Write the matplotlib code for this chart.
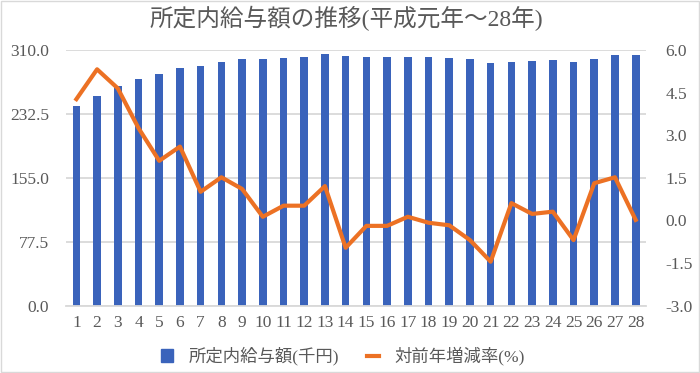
import matplotlib
matplotlib.use("Agg")
import matplotlib.pyplot as plt
from matplotlib.patches import Rectangle
from matplotlib.lines import Line2D
from matplotlib.patches import Patch

years = [str(i) for i in range(1, 29)]
salary = [242.5, 254.2, 266.4, 274.9, 281.3, 288.2, 291.0, 295.5, 299.1, 299.1,
          300.7, 301.9, 305.2, 303.1, 301.9, 301.9, 301.9, 301.9, 300.7, 299.1,
          294.3, 295.5, 296.7, 297.9, 295.5, 299.1, 304.0, 304.0]
change = [4.27, 5.32, 4.65, 3.25, 2.10, 2.60, 1.01, 1.52, 1.11, 0.13,
          0.52, 0.52, 1.21, -0.96, -0.19, -0.19, 0.13, -0.08, -0.17, -0.69,
          -1.45, 0.61, 0.23, 0.31, -0.69, 1.31, 1.52, 0.02]
left_ticks = [0.0, 77.5, 155.0, 232.5, 310.0]
right_ticks = [-3.0, -1.5, 0.0, 1.5, 3.0, 4.5, 6.0]

title = "所定内給与額の推移(平成元年～28年)"
bar_label = "所定内給与額(千円)"
line_label = "対前年増減率(%)"

fams = ['Liberation Serif', 'Noto Sans CJK JP', 'DejaVu Sans']
plt.rcParams['font.family'] = fams

TXT = '#595959'
BLUE = '#3A63BB'
ORANGE = '#EC7124'
GRID = '#D9D9D9'

fig = plt.figure(figsize=(7.0, 3.73), dpi=100)
ax = fig.add_axes([0.0943, 0.1804, 0.8286, 0.6856])
x = list(range(len(years)))
ax.bar(x, salary, width=0.37, color=BLUE, zorder=2)
ax.set_ylim(0, 310)
ax.set_xlim(-0.5, len(years) - 0.5)
ax.set_yticks(left_ticks)
ax.set_yticklabels([f"{v:.1f}" for v in left_ticks])
ax.set_xticks(x)
ax.set_xticklabels(years)
ax.yaxis.grid(True, color=GRID, lw=1.3, zorder=0)
ax.set_axisbelow(True)
for s in ['top', 'right', 'left']:
    ax.spines[s].set_visible(False)
ax.spines['bottom'].set_color(GRID)
ax.spines['bottom'].set_linewidth(1.3)
ax.tick_params(axis='both', length=0, colors=TXT, labelsize=12.5)
ax.tick_params(axis='y', pad=12)
ax.tick_params(axis='x', pad=7)

ax2 = ax.twinx()
ax2.plot(x, change, color=ORANGE, lw=3, zorder=3)
ax2.set_ylim(-3, 6)
ax2.set_yticks(right_ticks)
ax2.set_yticklabels([f"{v:.1f}" for v in right_ticks])
for s in ax2.spines.values():
    s.set_visible(False)
ax2.tick_params(axis='y', length=0, colors=TXT, labelsize=12.5, pad=14)

fig.text(0.495, 0.950, title, ha='center', va='center', fontsize=17, color=TXT)

handles = [Patch(color=BLUE, label=bar_label),
           Line2D([0], [0], color=ORANGE, lw=3, label=line_label)]
leg = fig.legend(handles=handles, loc='center', bbox_to_anchor=(0.49, 0.045),
                 ncol=2, frameon=False, fontsize=12.5, handlelength=0.7,
                 handleheight=0.7, columnspacing=1.6, handletextpad=0.9)
for t in leg.get_texts():
    t.set_color(TXT)

fig.patches.append(Rectangle((0.002, 0.002), 0.996, 0.996, transform=fig.transFigure,
                             fill=False, edgecolor='#D9D9D9', lw=1))

fig.savefig('out.png', dpi=100)
